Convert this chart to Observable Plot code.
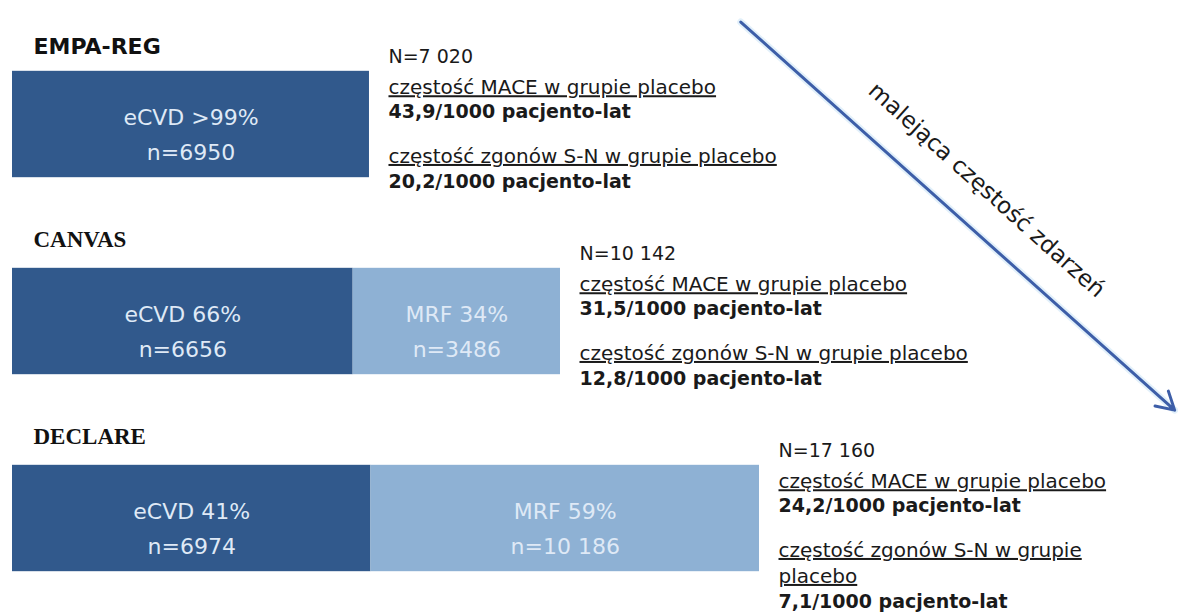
<!DOCTYPE html>
<html>
<head>
<meta charset="utf-8">
<script src="https://cdn.jsdelivr.net/npm/d3@7"></script>
<script src="https://cdn.jsdelivr.net/npm/@observablehq/plot@0.6"></script>
<style>
  html, body { margin: 0; padding: 0; background: #ffffff; }
  #chart svg { display: block; }
</style>
</head>
<body>
<div id="chart"></div>
<script>
// Trials and their populations
const trials = ["EMPA-REG", "CANVAS", "DECLARE"];
const totalN = [7020, 10142, 17160];
const ecvdN = [6950, 6656, 6974];
const ecvdPct = [">99%", "66%", "41%"];
const mrfN = [0, 3486, 10186];
const mrfPct = [null, "34%", "59%"];

// Placebo-arm event rates per 1000 patient-years
const maceRate = [43.9, 31.5, 24.2];
const cvDeathRate = [20.2, 12.8, 7.1];

// Text
const maceLabel = "częstość MACE w grupie placebo";
const cvDeathLabel = [
  "częstość zgonów S-N w grupie placebo",
  "częstość zgonów S-N w grupie placebo",
  "częstość zgonów S-N w grupie\nplacebo"
];
const rateUnit = "/1000 pacjento-lat";
const trendLabel = "malejąca częstość zdarzeń";

// Polish number formatting: decimal comma, space as thousands separator
const pl = d3.formatLocale({decimal: ",", thousands: " ", grouping: [3], currency: ["", " zł"]});
const fmtGroup = pl.format(",");
const fmtRate = pl.format(".1f");
const fmtSub = (v) => (v >= 10000 ? fmtGroup(v) : String(v));

// Stacked segments: established CV disease first, then multiple risk factors
const segments = trials.flatMap((trial, i) => {
  const rows = [{trial, i, group: "eCVD", x1: 0, x2: ecvdN[i], n: ecvdN[i], pct: ecvdPct[i]}];
  if (mrfN[i]) rows.push({trial, i, group: "MRF", x1: ecvdN[i], x2: ecvdN[i] + mrfN[i], n: mrfN[i], pct: mrfPct[i]});
  return rows;
});

const rows = trials.map((trial, i) => ({
  trial, i,
  end: ecvdN[i] + mrfN[i],
  nLine: "N=" + fmtGroup(totalN[i]),
  mace: maceLabel + "\n" + fmtRate(maceRate[i]) + rateUnit,
  death: cvDeathLabel[i] + "\n" + fmtRate(cvDeathRate[i]) + rateUnit
}));

// Horizontal scale (patients), piecewise so the schematic bars keep their proportions
const xScale = {type: "linear", domain: [0, 6800, 10142, 17160], range: [12, 360, 560, 759]};
const xs = Plot.scale({x: xScale});
const segMid = (d) => xs.invert((xs.apply(d.x1) + xs.apply(d.x2)) / 2);

const sans = "'DejaVu Sans', Verdana, sans-serif";
const serif = "'Liberation Serif', 'DejaVu Serif', serif";
const half = 0.27; // half bar thickness, in trial units

const plot = Plot.plot({
  width: 1178,
  height: 615,
  margin: 0,
  x: {...xScale, axis: null},
  y: {type: "linear", domain: [0, 2], range: [124, 518], axis: null},
  color: {domain: ["eCVD", "MRF"], range: ["#31598c", "#8eb1d4"]},
  style: {fontFamily: sans, background: "#ffffff", color: "#1a1a1a"},
  marks: [
    // population bars
    Plot.rect(segments, {
      x1: "x1", x2: "x2",
      y1: (d) => d.i - half, y2: (d) => d.i + half,
      fill: "group"
    }),
    // labels inside segments
    Plot.text(segments, {
      x: segMid, y: "i",
      text: (d) => `${d.group} ${d.pct}\nn=${fmtSub(d.n)}`,
      lineAnchor: "middle", lineHeight: 1.6, dy: 7,
      fontSize: 22, fill: "#dfe9f6"
    }),
    // trial titles
    Plot.text(rows.filter((d) => d.i === 0), {
      x: 0, y: (d) => d.i - half, text: "trial",
      textAnchor: "start", lineAnchor: "bottom", dx: 21, dy: -17,
      fontSize: 22, fontWeight: "bold", fontFamily: sans, fill: "#111"
    }),
    Plot.text(rows.filter((d) => d.i > 0), {
      x: 0, y: (d) => d.i - half, text: "trial",
      textAnchor: "start", lineAnchor: "bottom", dx: 21, dy: -21,
      fontSize: 23, fontWeight: "bold", fontFamily: serif, fill: "#111"
    }),
    // trial size
    Plot.text(rows, {
      x: "end", y: "i", text: "nLine",
      textAnchor: "start", lineAnchor: "bottom", dx: 19, dy: -62,
      fontSize: 19, fill: "#1a1a1a"
    }),
    // MACE rate block
    Plot.text(rows, {
      x: "end", y: "i", text: "mace",
      textAnchor: "start", lineAnchor: "top", lineHeight: 1.25, dx: 19, dy: -48,
      fontSize: 20, fill: "#1a1a1a"
    }),
    // CV death rate block
    Plot.text(rows, {
      x: "end", y: "i", text: "death",
      textAnchor: "start", lineAnchor: "top", lineHeight: 1.3, dx: 19, dy: 20,
      fontSize: 20, fill: "#1a1a1a"
    }),
    // trend arrow across trials
    Plot.arrow([trendLabel], {
      x1: 16500, y1: -0.52, x2: 31800, y2: 1.45,
      stroke: "#cfe6f7", strokeWidth: 7, strokeOpacity: 0.6, headLength: 0
    }),
    Plot.arrow([trendLabel], {
      x1: 16500, y1: -0.52, x2: 31800, y2: 1.45,
      stroke: "#3d5ea8", strokeWidth: 3, headLength: 10
    }),
    Plot.text([trendLabel], {
      x: 24150, y: 0.465, text: (d) => d,
      rotate: 41.9, dx: 29, dy: -26,
      fontSize: 23, fill: "#1a1a1a"
    })
  ]
});

// within the rate blocks: underline the labels, set the values in bold
d3.select(plot).selectAll("text tspan").each(function () {
  const s = d3.select(this);
  const t = s.text();
  if (t.includes(rateUnit)) {
    s.attr("font-weight", "bold").attr("font-size", 19);
  } else if (t.startsWith("częstość") || t === "placebo") {
    s.attr("text-decoration", "underline").style("text-decoration", "underline");
  }
});

document.getElementById("chart").appendChild(plot);
</script>
</body>
</html>
